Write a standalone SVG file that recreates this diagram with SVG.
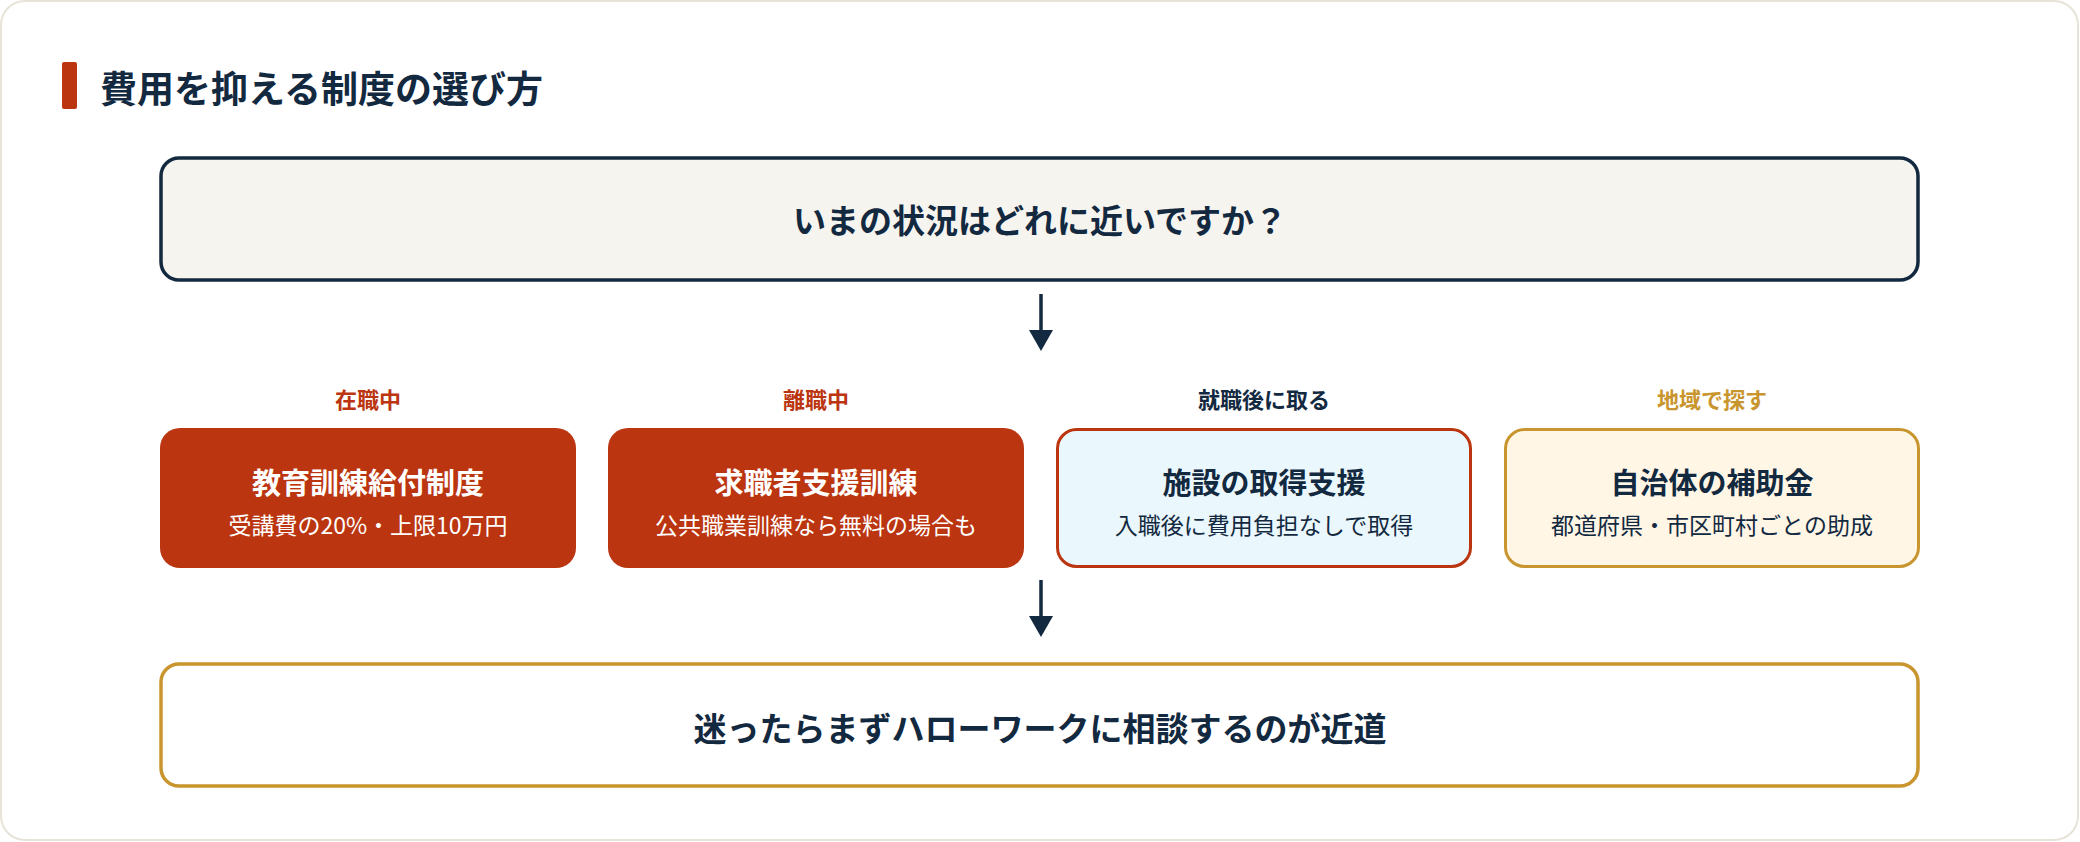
<svg xmlns="http://www.w3.org/2000/svg" width="2080" height="842" viewBox="0 0 2080 842">
<style>
text{font-family:"Noto Sans CJK JP","Noto Sans",sans-serif;text-anchor:middle;dominant-baseline:central}
.b{font-weight:700}
.dk{fill:#13293f}
.wh{fill:#ffffff}
.lbl{font-size:22px;font-weight:700}
.t{font-size:29px;font-weight:700}
.s{font-size:23px}
.ar{stroke:#13293f;stroke-width:3.5;fill:none}
</style>
<defs><marker id="ah" viewBox="0 0 10 10" refX="5" refY="5" markerWidth="7" markerHeight="7" markerUnits="userSpaceOnUse" orient="auto"><path d="M0,0L10,5L0,10z" fill="#13293f"/></marker></defs>
<rect x="1" y="1" width="2077" height="839" rx="24" fill="#ffffff" stroke="#e6e3d8" stroke-width="2"/>
<g id="title"><rect x="62" y="62" width="15" height="47" rx="2" fill="#bb3510"/><text x="100" y="87" class="b dk" style="font-size:37px;text-anchor:start">費用を抑える制度の選び方</text></g>
<g id="q"><rect x="161" y="158" width="1757" height="122" rx="18" fill="#f5f4ef" stroke="#13293f" stroke-width="3.5"/><text x="1040" y="219" class="b dk" style="font-size:33px">いまの状況はどれに近いですか？</text></g>
<g id="connectors">
<line x1="1041" y1="294" x2="1041" y2="338" class="ar"/><path d="M1029,330L1053,330L1041,351z" fill="#13293f"/>
<line x1="1041" y1="580" x2="1041" y2="624" class="ar"/><path d="M1029,616L1053,616L1041,637z" fill="#13293f"/>
</g>
<g id="n1"><text x="368" y="398" class="lbl" fill="#bb3510">在職中</text><rect x="160" y="428" width="416" height="140" rx="20" fill="#bb3510"/><text x="368" y="481" class="t wh">教育訓練給付制度</text><text x="368" y="524" class="s wh">受講費の20%・上限10万円</text></g>
<g id="n2"><text x="816" y="398" class="lbl" fill="#bb3510">離職中</text><rect x="608" y="428" width="416" height="140" rx="20" fill="#bb3510"/><text x="816" y="481" class="t wh">求職者支援訓練</text><text x="816" y="524" class="s wh">公共職業訓練なら無料の場合も</text></g>
<g id="n3"><text x="1264" y="398" class="lbl dk">就職後に取る</text><rect x="1057.5" y="429.5" width="413" height="137" rx="19" fill="#eaf7fd" stroke="#bb3510" stroke-width="3"/><text x="1264" y="481" class="t dk">施設の取得支援</text><text x="1264" y="524" class="s dk">入職後に費用負担なしで取得</text></g>
<g id="n4"><text x="1712" y="398" class="lbl" fill="#c9952e">地域で探す</text><rect x="1505.5" y="429.5" width="413" height="137" rx="19" fill="#fff6e6" stroke="#c9952e" stroke-width="3"/><text x="1712" y="481" class="t dk">自治体の補助金</text><text x="1712" y="524" class="s dk">都道府県・市区町村ごとの助成</text></g>
<g id="end"><rect x="161" y="664" width="1757" height="122" rx="18" fill="#ffffff" stroke="#c9952e" stroke-width="3.5"/><text x="1040" y="727" class="b dk" style="font-size:33px">迷ったらまずハローワークに相談するのが近道</text></g>
</svg>
